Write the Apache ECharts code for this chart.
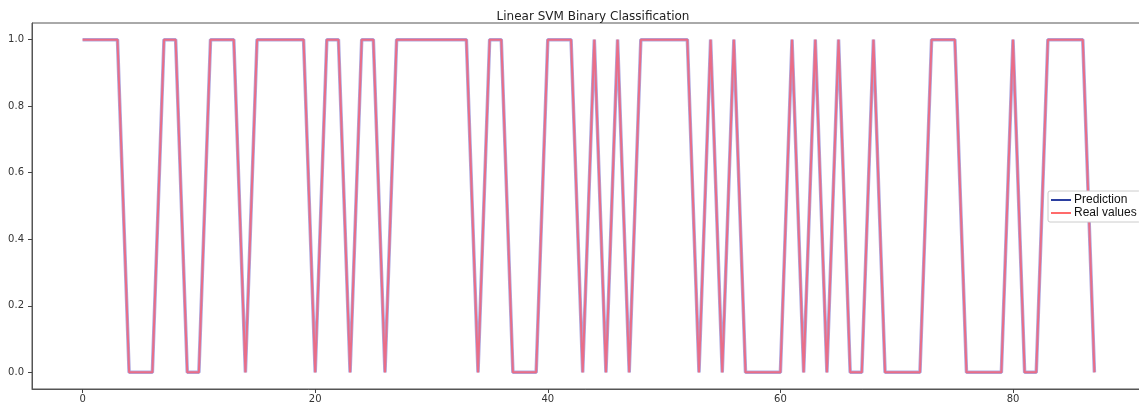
<!DOCTYPE html>
<html>
<head>
<meta charset="utf-8">
<script src="https://cdn.jsdelivr.net/npm/echarts@6/dist/echarts.min.js"></script>
<style>
  html, body { margin: 0; padding: 0; background: #fff; }
  #main { width: 1139px; height: 407px; }
</style>
</head>
<body>
<div id="main"></div>
<script>
// sample index 0..87
var xIndex = [];
for (var i = 0; i < 88; i++) xIndex.push(i);

// predicted class for each sample
var prediction = [
  1, 1, 1, 1, 0, 0, 0, 1, 1, 0,
  0, 1, 1, 1, 0, 1, 1, 1, 1, 1,
  0, 1, 1, 0, 1, 1, 0, 1, 1, 1,
  1, 1, 1, 1, 0, 1, 1, 0, 0, 0,
  1, 1, 1, 0, 1, 0, 1, 0, 1, 1,
  1, 1, 1, 0, 1, 0, 1, 0, 0, 0,
  0, 1, 0, 1, 0, 1, 0, 0, 1, 0,
  0, 0, 0, 1, 1, 1, 0, 0, 0, 0,
  1, 0, 0, 1, 1, 1, 1, 0
];

// real class for each sample
var realValues = [
  1, 1, 1, 1, 0, 0, 0, 1, 1, 0,
  0, 1, 1, 1, 0, 1, 1, 1, 1, 1,
  0, 1, 1, 0, 1, 1, 0, 1, 1, 1,
  1, 1, 1, 1, 0, 1, 1, 0, 0, 0,
  1, 1, 1, 0, 1, 0, 1, 0, 1, 1,
  1, 1, 1, 0, 1, 0, 1, 0, 0, 0,
  0, 1, 0, 1, 0, 1, 0, 0, 1, 0,
  0, 0, 0, 1, 1, 1, 0, 0, 0, 0,
  1, 0, 0, 1, 1, 1, 1, 0
];

var xTicks = [0, 20, 40, 60, 80];
var yTicks = [0.0, 0.2, 0.4, 0.6, 0.8, 1.0];

function pairs(xs, ys) {
  return xs.map(function (x, k) { return [x, ys[k]]; });
}

var myChart = echarts.init(document.getElementById('main'));

var option = {
  animation: false,
  backgroundColor: '#fff',
  title: {
    text: 'Linear SVM Binary Classification',
    left: 588,
    textAlign: 'center',
    top: 6,
    textStyle: { fontFamily: 'DejaVu Sans', fontSize: 12, fontWeight: 'normal', color: '#222' }
  },
  legend: {
    orient: 'vertical',
    left: 1048,
    top: 191,
    padding: [3, 4, 3, 3],
    itemGap: 1,
    itemWidth: 20,
    itemHeight: 2,
    icon: 'rect',
    backgroundColor: '#fff',
    borderColor: '#ccc',
    borderWidth: 1,
    borderRadius: 2,
    textStyle: { fontFamily: 'Liberation Sans', fontSize: 12, color: '#111', padding: [0, 0, 0, -2] },
    data: ['Prediction', 'Real values']
  },
  grid: {
    left: 32,
    top: 23,
    right: -6,
    bottom: 18,
    outerBoundsMode: 'none',
    containLabel: false,
    show: true,
    borderColor: '#555',
    borderWidth: 1
  },
  xAxis: {
    type: 'value',
    min: -4.35,
    max: 91.35,
    interval: 20,
    splitLine: { show: false },
    axisLine: { show: true, onZero: false, lineStyle: { color: '#555' } },
    axisTick: {
      show: true, length: 4, lineStyle: { color: '#444' },
      customValues: xTicks
    },
    axisLabel: {
      margin: 5,
      fontFamily: 'DejaVu Sans', fontSize: 10, color: '#333',
      customValues: xTicks,
      formatter: function (v) { return xTicks.indexOf(v) >= 0 ? String(v) : ''; }
    }
  },
  yAxis: {
    type: 'value',
    min: -0.05,
    max: 1.05,
    interval: 0.2,
    splitLine: { show: false },
    axisLine: { show: true, onZero: false, lineStyle: { color: '#555' } },
    axisTick: {
      show: true, length: 4, lineStyle: { color: '#444' },
      customValues: yTicks
    },
    axisLabel: {
      margin: 8,
      fontFamily: 'DejaVu Sans', fontSize: 10, color: '#333',
      customValues: yTicks,
      formatter: function (v) { return v.toFixed(1); }
    }
  },
  series: [
    {
      name: 'Prediction',
      type: 'line',
      symbol: 'none',
      data: pairs(xIndex, prediction),
      itemStyle: { color: '#2b3fa0' },
      lineStyle: { color: '#4a3fb8', width: 3.5, opacity: 0.45 }
    },
    {
      name: 'Real values',
      type: 'line',
      symbol: 'none',
      data: pairs(xIndex, realValues),
      itemStyle: { color: '#ff6b6b' },
      lineStyle: { color: '#ff5a6a', width: 2, opacity: 0.75 }
    }
  ]
};

myChart.setOption(option);
</script>
</body>
</html>
